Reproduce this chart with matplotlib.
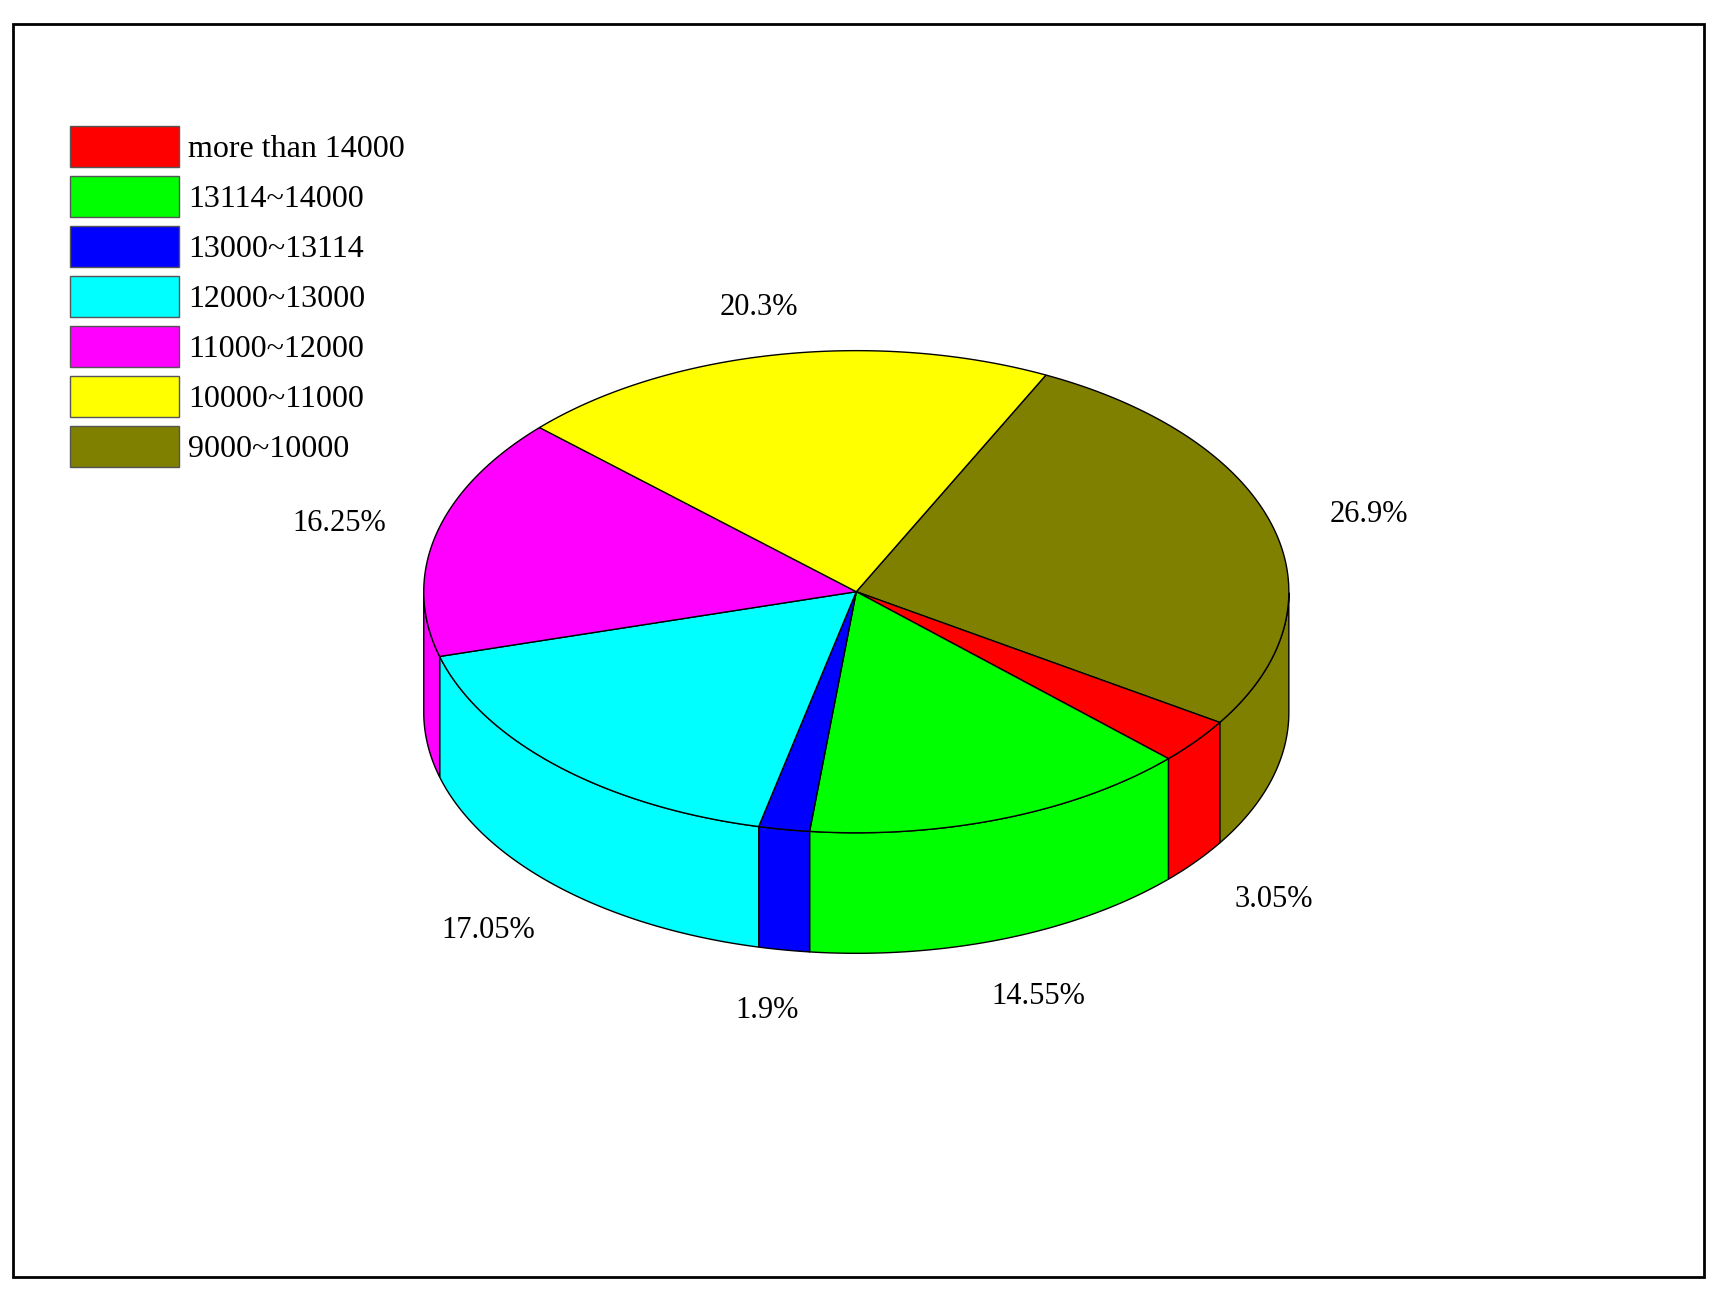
import numpy as np
import matplotlib
matplotlib.use('Agg')
import matplotlib.pyplot as plt
from matplotlib.patches import Polygon, Rectangle, Patch

labels = ['more than 14000', '13114~14000', '13000~13114', '12000~13000',
          '11000~12000', '10000~11000', '9000~10000']
legend_colors = ['#ff0000', '#00ff00', '#0000ff', '#00ffff', '#ff00ff', '#ffff00', '#808000']

# slices in drawing order (clockwise from the yellow/olive boundary)
slice_names = ['9000~10000', 'more than 14000', '13114~14000', '13000~13114',
               '12000~13000', '11000~12000', '10000~11000']
slice_pct = [26.9, 3.05, 14.55, 1.9, 17.05, 16.25, 20.3]
slice_text = ['26.9%', '3.05%', '14.55%', '1.9%', '17.05%', '16.25%', '20.3%']
color_of = dict(zip(labels, legend_colors))

cx, cy, rx, ry, depth = 778, 540, 393, 220, 110
start = 64.0

fig = plt.figure(figsize=(17.17, 12.93), dpi=100)
ax = fig.add_axes([0, 0, 1, 1])
ax.set_xlim(0, 1560)
ax.set_ylim(1180, 0)
ax.axis('off')
ax.add_patch(Rectangle((12, 22), 1536, 1143, fill=False, lw=2, ec='black'))


def pt(t, dz=0):
    r = np.radians(t)
    return cx + rx * np.cos(r), cy - ry * np.sin(r) + dz


font = dict(family='Liberation Serif', fontsize=22)
angle = start
spans = []
for name, pct in zip(slice_names, slice_pct):
    a1 = angle - pct * 3.6
    spans.append((a1, angle))
    angle = a1

# side walls (front half only)
for (a1, a2), name in zip(spans, slice_names):
    ts = np.linspace(a1, a2, 200)
    tm = np.mod(ts, 360)
    front = ts[(tm > 180) & (tm < 360)]
    if len(front) < 2:
        continue
    top = [pt(t) for t in front]
    bot = [pt(t, depth) for t in front[::-1]]
    ax.add_patch(Polygon(top + bot, closed=True, fc=color_of[name], ec='black', lw=1))

# tops
for (a1, a2), name in zip(spans, slice_names):
    ts = np.linspace(a1, a2, 200)
    verts = [(cx, cy)] + [pt(t) for t in ts]
    ax.add_patch(Polygon(verts, closed=True, fc=color_of[name], ec='black', lw=1))

# labels
for (a1, a2), txt in zip(spans, slice_text):
    mid = (a1 + a2) / 2
    r = np.radians(mid)
    x = cx + rx * 1.23 * np.cos(r)
    y = cy - ry * 1.2 * np.sin(r)
    if np.sin(r) < 0:
        y += depth + 12 * abs(np.sin(r))
    ax.text(x, y, txt, ha='center', va='center', **font)

handles = [Patch(fc=c, ec='#555555', lw=1) for c in legend_colors]
ax.legend(handles, labels, loc='upper left', bbox_to_anchor=(0.024, 0.925),
          frameon=False, prop={'family': 'Liberation Serif', 'size': 23},
          handlelength=3.4, handleheight=1.6, handletextpad=0.3, labelspacing=0.28)

fig.savefig('out.png')
